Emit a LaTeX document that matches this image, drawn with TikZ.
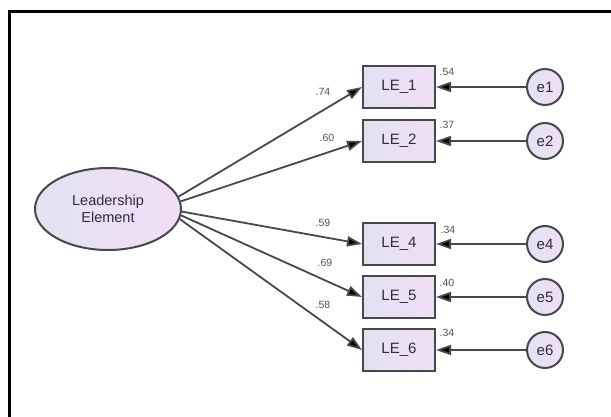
\documentclass[tikz,border=0pt]{standalone}
\usepackage{fontspec}
\setmainfont{Liberation Sans}
\usetikzlibrary{arrows.meta,shapes.geometric}

\definecolor{lineg}{RGB}{72,72,76}
\definecolor{fillleft}{RGB}{226,226,242}
\definecolor{fillright}{RGB}{241,222,246}
\definecolor{labelc}{RGB}{50,42,64}
\definecolor{estc}{RGB}{80,80,86}

\begin{document}
\begin{tikzpicture}[x=1pt, y=-1pt,
        obs/.style = {draw=lineg, line width=2pt, left color=fillleft, right color=fillright,
                      minimum width=72pt, minimum height=42pt, inner sep=0pt,
                      font=\fontsize{15}{17}\selectfont, text=labelc},
        err/.style = {circle, draw=lineg, line width=2pt, left color=fillleft, right color=fillright,
                      minimum size=36pt, inner sep=0pt,
                      font=\fontsize{15}{17}\selectfont, text=labelc},
        latent/.style = {ellipse, draw=lineg, line width=2pt, left color=fillleft, right color=fillright,
                      minimum width=146pt, minimum height=82pt, inner sep=0pt, align=center,
                      font=\fontsize{14.5}{17}\selectfont, text=labelc},
        load/.style = {draw=lineg, line width=1.8pt, -{Triangle[length=15pt,width=10pt,fill=black]}},
        est/.style = {font=\fontsize{10.5}{12}\selectfont, text=estc, inner sep=0pt}]
        \useasboundingbox (0,0) rectangle (611,417);
        \draw[line width=3.5pt] (9.3,417) -- (9.3,11.3) -- (611,11.3);
        % latent factor
        \node[latent] (le) at (108,209) {Leadership\\Element};
        % indicators
        \node[obs] (le1) at (399,87) {LE\_1};
        \node[obs] (le2) at (399,141) {LE\_2};
        \node[obs] (le4) at (399,244) {LE\_4};
        \node[obs] (le5) at (399,297) {LE\_5};
        \node[obs] (le6) at (399,350) {LE\_6};
        % error terms
        \node[err] (e1) at (545,87) {e1};
        \node[err] (e2) at (545,141) {e2};
        \node[err] (e4) at (545,244) {e4};
        \node[err] (e5) at (545,297) {e5};
        \node[err] (e6) at (545,350) {e6};
        % loadings
        \draw[load] (le.10) -- (le1.west);
        \draw[load] (le.6) -- (le2.west);
        \draw[load] (le.-2) -- (le4.west);
        \draw[load] (le.-5) -- (le5.west);
        \draw[load] (le.-8) -- (le6.west);
        \draw[load] (e1) -- (le1.east);
        \draw[load] (e2) -- (le2.east);
        \draw[load] (e4) -- (le4.east);
        \draw[load] (e5) -- (le5.east);
        \draw[load] (e6) -- (le6.east);
        \node[est] (l1) at (323,92) {.74};
        \node[est] (l2) at (327,138) {.60};
        \node[est] (l4) at (323,223) {.59};
        \node[est] (l5) at (325,263) {.69};
        \node[est] (l6) at (323,305) {.58};
        % squared multiple correlations
        \node[est] (r1) at (447,72) {.54};
        \node[est] (r2) at (447,125) {.37};
        \node[est] (r4) at (448,230) {.34};
        \node[est] (r5) at (447,283) {.40};
        \node[est] (r6) at (447,333) {.34};
    \end{tikzpicture}
\end{document}
